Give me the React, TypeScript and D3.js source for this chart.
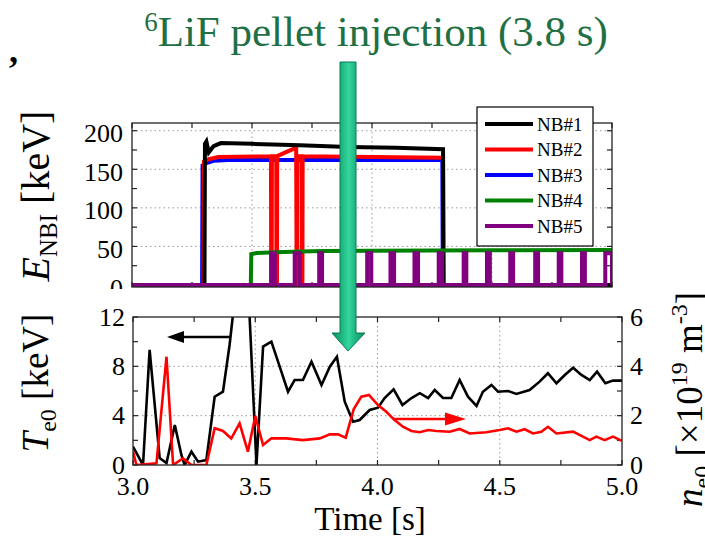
import React from "react";
import * as d3 from "d3";

// ---------- data ----------
const nb1T = [3.0, 3.302, 3.304, 3.31, 3.32, 3.34, 3.37, 3.5, 3.7, 3.9, 4.1, 4.296, 4.298, 5.0];
const nb1E = [0, 0, 183, 186, 172, 180, 184, 183, 181, 179, 178, 176, 0, 0];

const nb2T = [3.0, 3.298, 3.3, 3.32, 3.36, 3.579, 3.58, 3.582, 3.583, 3.601, 3.602, 3.604, 3.605, 3.684, 3.686, 3.688, 3.689, 3.707, 3.708, 3.71, 3.711, 4.0, 4.296, 4.298, 5.0];
const nb2E = [0, 0, 160, 163, 166, 167, 0, 0, 167, 167, 0, 0, 167, 178, 0, 0, 167, 167, 0, 0, 167, 166, 165, 0, 0];

const nb3T = [3.0, 3.292, 3.294, 3.31, 3.34, 3.4, 4.0, 4.293, 4.295, 5.0];
const nb3E = [0, 0, 155, 158, 161, 162, 162, 162, 0, 0];

const nb4T = [3.0, 3.495, 3.497, 3.52, 3.6, 3.7, 3.8, 4.0, 4.5, 5.0];
const nb4E = [0, 0, 40, 41.5, 42.5, 43.5, 44, 44.5, 45, 45.5];

const nb5On = [3.58, 3.678, 3.78, 3.878, 3.98, 4.077, 4.177, 4.278, 4.382, 4.479, 4.576, 4.68, 4.778, 4.875, 4.972];
const nb5Off = [3.595, 3.699, 3.792, 3.892, 3.997, 4.092, 4.192, 4.292, 4.393, 4.491, 4.588, 4.692, 4.789, 4.887, 5.0];
const nb5Level = 41;

const teT = [3.0, 3.041, 3.068, 3.109, 3.137, 3.171, 3.198, 3.211, 3.239, 3.266, 3.3, 3.334, 3.368, 3.395, 3.409, 3.45, 3.477, 3.505, 3.532, 3.566, 3.6, 3.634, 3.661, 3.695, 3.73, 3.771, 3.805, 3.834, 3.866, 3.9, 3.927, 3.968, 4.002, 4.029, 4.066, 4.102, 4.139, 4.173, 4.207, 4.234, 4.268, 4.302, 4.336, 4.37, 4.405, 4.431, 4.466, 4.493, 4.534, 4.568, 4.622, 4.663, 4.697, 4.732, 4.766, 4.8, 4.834, 4.868, 4.898, 4.932, 4.963, 5.0];
const teV = [1.48, 0, 9.33, 0.57, 0.16, 3.24, 0.81, 0, 1.08, 0.27, 0.4, 5.54, 5.94, 9.73, 12.2, 16, 12, 0, 9.6, 10.0, 7.97, 5.94, 6.89, 6.89, 8.38, 6.49, 7.97, 8.78, 5.13, 3.51, 3.65, 4.46, 4.65, 5.43, 6.14, 4.87, 5.43, 5.82, 5.43, 6.08, 5.43, 5.43, 6.89, 5.54, 4.79, 5.94, 6.49, 5.94, 6.0, 5.76, 6.08, 6.76, 7.44, 6.63, 7.3, 7.89, 7.3, 6.89, 7.57, 6.63, 6.84, 6.84];

const neT = [3.0, 3.014, 3.096, 3.137, 3.164, 3.204, 3.239, 3.3, 3.334, 3.368, 3.402, 3.436, 3.47, 3.5, 3.532, 3.566, 3.627, 3.695, 3.764, 3.805, 3.838, 3.87, 3.903, 3.934, 3.965, 4.002, 4.036, 4.07, 4.104, 4.139, 4.173, 4.207, 4.241, 4.295, 4.336, 4.377, 4.445, 4.5, 4.534, 4.568, 4.602, 4.636, 4.67, 4.697, 4.732, 4.8, 4.868, 4.895, 4.929, 4.963, 5.0];
const neV = [0.54, 0, 0.07, 4.39, 0, 0.27, 0, 0, 1.49, 1.38, 1.08, 1.69, 0.54, 1.99, 0.81, 1.08, 1.08, 1.01, 1.08, 1.24, 1.24, 1.11, 2.27, 2.77, 2.84, 2.43, 2.16, 1.82, 1.55, 1.38, 1.33, 1.42, 1.38, 1.35, 1.46, 1.28, 1.33, 1.42, 1.49, 1.35, 1.45, 1.28, 1.35, 1.55, 1.28, 1.35, 1.01, 1.15, 1.01, 1.15, 0.98];

const legendNames = ["NB#1", "NB#2", "NB#3", "NB#4", "NB#5"];
const legendColors = ["#000000", "#ff0000", "#0000ff", "#008000", "#800080"];

const xLabelTicks = [3.0, 3.5, 4.0, 4.5, 5.0];
const xGridTicks = [3.5, 4.0, 4.5];
const topLabelTicks = [0, 50, 100, 150, 200];
const topGridTicks = [50, 100, 150, 200];
const teLabelTicks = [0, 4, 8, 12];
const teGridTicks = [4, 8];
const neLabelTicks = [0, 2, 4, 6];

const titleText = "LiF pellet injection (3.8 s)";

// ---------- layout ----------
const W = 705, H = 543;
const FONT = "Liberation Serif, DejaVu Serif, Times New Roman, serif";
const T1 = { l: 132, r: 612, t: 123, b: 287 };
const T2 = { l: 133, r: 622, t: 317, b: 465 };

const x1 = d3.scaleLinear().domain([3, 5]).range([T1.l, T1.r]);
const yE = d3.scaleLinear().domain([0, 210]).range([285, T1.t]);
const x2 = d3.scaleLinear().domain([3, 5]).range([T2.l, T2.r]);
const yTe = d3.scaleLinear().domain([0, 12]).range([T2.b, T2.t]);
const yNe = d3.scaleLinear().domain([0, 6]).range([T2.b, T2.t]);

const zip = (a: number[], b: number[]) => a.map((v, i) => [v, b[i]] as [number, number]);
const line1 = d3.line<[number, number]>().x(d => x1(d[0])).y(d => yE(d[1]));
const lineTe = d3.line<[number, number]>().x(d => x2(d[0])).y(d => yTe(d[1]));
const lineNe = d3.line<[number, number]>().x(d => x2(d[0])).y(d => yNe(d[1]));

function nb5Points(): [number, number][] {
  const pts: [number, number][] = [[3.0, 0]];
  nb5On.forEach((on, i) => {
    const off = nb5Off[i];
    pts.push([on, 0], [on, nb5Level], [off, nb5Level], [off, 0]);
  });
  pts.push([5.0, 0]);
  return pts;
}

const range = (a: number, b: number, s: number) => d3.range(a, b + s / 2, s);
const tf = { fontFamily: FONT };

export default function App() {
  const topSeries = [
    { d: zip(nb3T, nb3E), c: legendColors[2] },
    { d: zip(nb2T, nb2E), c: legendColors[1] },
    { d: zip(nb1T, nb1E), c: legendColors[0] },
    { d: zip(nb4T, nb4E), c: legendColors[3] },
    { d: nb5Points(), c: legendColors[4] },
  ];
  const tickLen = 5;
  const frame = "#222";
  const grid = { stroke: "#9a9a9a", strokeWidth: 1, strokeDasharray: "1.5,3" };
  const legendRowY = (i: number) => 124 + i * 25.5;

  return (
    <svg width={W} height={H} viewBox={`0 0 ${W} ${H}`} style={{ position: "absolute", left: 0, top: 0, background: "#fff", fontFamily: FONT }}>
      <defs>
        <clipPath id="clipTop"><rect x={T1.l} y={T1.t} width={T1.r - T1.l} height={T1.b - T1.t + 1} /></clipPath>
        <clipPath id="clipBot"><rect x={T2.l} y={T2.t} width={T2.r - T2.l} height={T2.b - T2.t} /></clipPath>
        <clipPath id="clipTopLabels"><rect x={0} y={100} width={132} height={189} /></clipPath>
        <linearGradient id="arrowGrad" x1="0" x2="1" y1="0" y2="0">
          <stop offset="0" stopColor="#0f8f63" />
          <stop offset="0.3" stopColor="#1db882" />
          <stop offset="0.5" stopColor="#36d49d" />
          <stop offset="0.7" stopColor="#1db882" />
          <stop offset="1" stopColor="#0f8f63" />
        </linearGradient>
      </defs>
      <rect x={0} y={0} width={W} height={H} fill="#fff" />

      {/* stray comma */}
      <text x={9} y={62} fontSize={36} fontWeight="bold" style={tf}>,</text>

      {/* title */}
      <text x={376} y={46} textAnchor="middle" fontSize={43} fill="#1f7044" style={tf}>
        <tspan fontSize={27} dy={-15}>6</tspan>
        <tspan dy={15}>{titleText}</tspan>
      </text>

      {/* ===== top panel ===== */}
      <g>
        {xGridTicks.map(t => <line key={"tg" + t} x1={x1(t)} x2={x1(t)} y1={T1.t} y2={T1.b} {...grid} />)}
        {topGridTicks.map(v => <line key={"tgy" + v} x1={T1.l} x2={T1.r} y1={yE(v)} y2={yE(v)} {...grid} />)}
        {range(0, 200, 25).map(v => (
          <g key={"tyt" + v}>
            <line x1={T1.l} x2={T1.l + tickLen} y1={yE(v)} y2={yE(v)} stroke={frame} strokeWidth={1.2} />
            <line x1={T1.r} x2={T1.r - tickLen} y1={yE(v)} y2={yE(v)} stroke={frame} strokeWidth={1.2} />
          </g>
        ))}
        {range(3, 5, 0.25).map(t => (
          <g key={"txt" + t}>
            <line x1={x1(t)} x2={x1(t)} y1={T1.t} y2={T1.t + tickLen} stroke={frame} strokeWidth={1.2} />
            <line x1={x1(t)} x2={x1(t)} y1={T1.b} y2={T1.b - tickLen} stroke={frame} strokeWidth={1.2} />
          </g>
        ))}
        <g clipPath="url(#clipTop)">
          {topSeries.map((s, i) => (
            <path key={"ts" + i} d={line1(s.d) || ""} fill="none" stroke={s.c} strokeWidth={4} strokeLinejoin="miter" />
          ))}
        </g>
        <rect x={T1.l} y={T1.t} width={T1.r - T1.l} height={T1.b - T1.t} fill="none" stroke={frame} strokeWidth={1.3} />
        <g clipPath="url(#clipTopLabels)">
          {topLabelTicks.map(v => (
            <text key={"tyl" + v} x={123} y={yE(v) + 3} textAnchor="end" dominantBaseline="central" fontSize={26} style={tf}>{v}</text>
          ))}
        </g>
        {/* legend */}
        <rect x={477} y={107} width={116} height={139} fill="#fff" stroke="#000" strokeWidth={1.2} />
        {legendNames.map((n, i) => (
          <g key={"lg" + n}>
            <line x1={485} x2={533} y1={legendRowY(i)} y2={legendRowY(i)} stroke={legendColors[i]} strokeWidth={4} />
            <text x={537} y={legendRowY(i)} dominantBaseline="central" fontSize={19} style={tf}>{n}</text>
          </g>
        ))}
      </g>

      {/* ===== bottom panel ===== */}
      <g>
        {xGridTicks.map(t => <line key={"bg" + t} x1={x2(t)} x2={x2(t)} y1={T2.t} y2={T2.b} {...grid} />)}
        {teGridTicks.map(v => <line key={"bgy" + v} x1={T2.l} x2={T2.r} y1={yTe(v)} y2={yTe(v)} {...grid} />)}
        {range(0, 12, 2).map(v => (
          <line key={"blt" + v} x1={T2.l} x2={T2.l + tickLen} y1={yTe(v)} y2={yTe(v)} stroke={frame} strokeWidth={1.2} />
        ))}
        {range(0, 6, 1).map(v => (
          <line key={"brt" + v} x1={T2.r} x2={T2.r - tickLen} y1={yNe(v)} y2={yNe(v)} stroke={frame} strokeWidth={1.2} />
        ))}
        {range(3, 5, 0.25).map(t => (
          <g key={"bxt" + t}>
            <line x1={x2(t)} x2={x2(t)} y1={T2.t} y2={T2.t + tickLen} stroke={frame} strokeWidth={1.2} />
            <line x1={x2(t)} x2={x2(t)} y1={T2.b} y2={T2.b - tickLen} stroke={frame} strokeWidth={1.2} />
          </g>
        ))}
        <g clipPath="url(#clipBot)">
          <path d={lineTe(zip(teT, teV)) || ""} fill="none" stroke="#000" strokeWidth={2.6} strokeLinejoin="miter" />
          <path d={lineNe(zip(neT, neV)) || ""} fill="none" stroke="#ff0000" strokeWidth={2.6} strokeLinejoin="miter" />
        </g>
        <rect x={T2.l} y={T2.t} width={T2.r - T2.l} height={T2.b - T2.t} fill="none" stroke={frame} strokeWidth={1.3} />
        {teLabelTicks.map(v => (
          <text key={"bll" + v} x={125} y={yTe(v)} textAnchor="end" dominantBaseline="central" fontSize={26} style={tf}>{v}</text>
        ))}
        {neLabelTicks.map(v => (
          <text key={"brl" + v} x={630} y={yNe(v)} textAnchor="start" dominantBaseline="central" fontSize={26} style={tf}>{v}</text>
        ))}
        {xLabelTicks.map(t => (
          <text key={"bxl" + t} x={x2(t)} y={495} textAnchor="middle" fontSize={26} style={tf}>{t.toFixed(1)}</text>
        ))}
        {/* direction arrows */}
        <line x1={231} x2={180} y1={337} y2={337} stroke="#000" strokeWidth={2.6} />
        <path d="M167,337 L184,331 L184,343 Z" fill="#000" />
        <line x1={393} x2={448} y1={419} y2={419} stroke="#ff0000" strokeWidth={2.6} />
        <path d="M466,419 L445,412.5 L445,425.5 Z" fill="#ff0000" />
      </g>

      {/* axis titles */}
      <text transform="translate(49,196) rotate(-90)" textAnchor="middle" fontSize={40} style={tf}>
        <tspan fontStyle="italic">E</tspan>
        <tspan fontSize={25} dy={8}>NBI</tspan>
        <tspan dy={-8}> [keV]</tspan>
      </text>
      <text transform="translate(48,383) rotate(-90)" textAnchor="middle" fontSize={37} style={tf}>
        <tspan fontStyle="italic">T</tspan>
        <tspan fontSize={24} dy={8}>e0</tspan>
        <tspan dy={-8}> [keV]</tspan>
      </text>
      <text transform="translate(702,292) rotate(-90)" textAnchor="end" fontSize={37} style={tf}>
        <tspan fontStyle="italic">n</tspan>
        <tspan fontSize={24} dy={8}>e0</tspan>
        <tspan dy={-8}> [×10</tspan>
        <tspan fontSize={24} dy={-15}>19</tspan>
        <tspan dy={15}> m</tspan>
        <tspan fontSize={24} dy={-15}>-3</tspan>
        <tspan dy={15}>]</tspan>
      </text>
      <text x={370} y={530} textAnchor="middle" fontSize={33} style={tf}>Time [s]</text>

      {/* green pellet-injection arrow */}
      <path d="M340,62 L356,62 L356,333 L365,333 L348,351 L332,333 L340,333 Z" fill="url(#arrowGrad)" stroke="#0b7a52" strokeWidth={1} />
    </svg>
  );
}
